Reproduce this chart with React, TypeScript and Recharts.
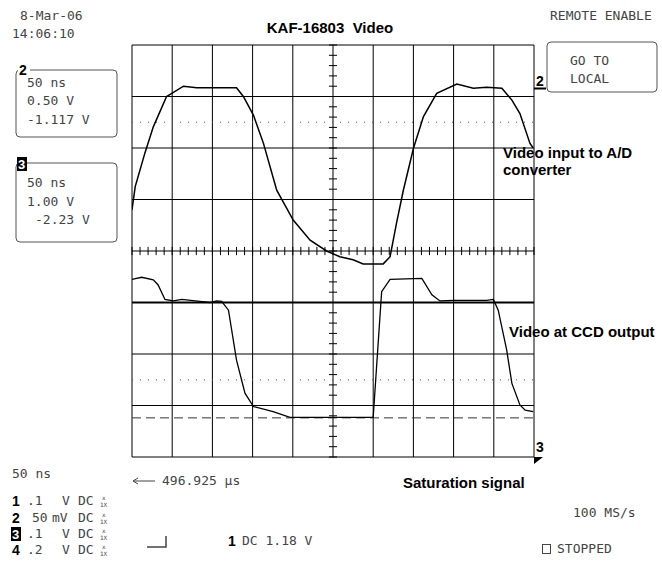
import React from "react";
import {
  ComposedChart,
  Line,
  XAxis,
  YAxis,
  CartesianGrid,
  ReferenceLine,
} from "recharts";

// scope screen is 10 x 8 divisions, centre at (5, 0)
const xDivs = [0, 1, 2, 3, 4, 5, 6, 7, 8, 9, 10];
const yDivs = [-4, -3, -2, -1, 0, 1, 2, 3, 4];

// Video input to A/D converter (channel 2)
const adcInput = [
  { x: 0.0, y: 0.8 },
  { x: 0.08, y: 1.25 },
  { x: 0.32, y: 1.9 },
  { x: 0.53, y: 2.41 },
  { x: 0.86, y: 3.0 },
  { x: 0.99, y: 3.06 },
  { x: 1.28, y: 3.2 },
  { x: 1.61, y: 3.17 },
  { x: 2.6, y: 3.17 },
  { x: 2.77, y: 3.0 },
  { x: 3.02, y: 2.64 },
  { x: 3.27, y: 2.09 },
  { x: 3.6, y: 1.18 },
  { x: 4.01, y: 0.6 },
  { x: 4.43, y: 0.21 },
  { x: 4.84, y: 0.0 },
  { x: 5.17, y: -0.11 },
  { x: 5.5, y: -0.17 },
  { x: 5.75, y: -0.25 },
  { x: 6.25, y: -0.25 },
  { x: 6.42, y: -0.11 },
  { x: 6.58, y: 0.54 },
  { x: 6.75, y: 1.18 },
  { x: 7.0, y: 1.99 },
  { x: 7.25, y: 2.61 },
  { x: 7.58, y: 3.06 },
  { x: 8.08, y: 3.24 },
  { x: 8.49, y: 3.16 },
  { x: 8.82, y: 3.18 },
  { x: 9.2, y: 3.16 },
  { x: 9.45, y: 2.93 },
  { x: 9.65, y: 2.67 },
  { x: 9.9, y: 2.09 },
  { x: 9.98, y: 2.0 },
];

// Video at CCD output (channel 3)
const ccdOutput = [
  { x: 0.0, y: -0.55 },
  { x: 0.24, y: -0.51 },
  { x: 0.53, y: -0.56 },
  { x: 0.65, y: -0.66 },
  { x: 0.82, y: -0.94 },
  { x: 1.03, y: -0.97 },
  { x: 1.24, y: -0.94 },
  { x: 1.69, y: -0.98 },
  { x: 1.94, y: -1.0 },
  { x: 2.11, y: -0.97 },
  { x: 2.23, y: -0.98 },
  { x: 2.4, y: -1.15 },
  { x: 2.6, y: -2.12 },
  { x: 2.81, y: -2.76 },
  { x: 3.02, y: -3.02 },
  { x: 3.51, y: -3.12 },
  { x: 3.93, y: -3.23 },
  { x: 6.0, y: -3.23 },
  { x: 6.09, y: -2.18 },
  { x: 6.21, y: -0.79 },
  { x: 6.42, y: -0.55 },
  { x: 7.21, y: -0.53 },
  { x: 7.46, y: -0.85 },
  { x: 7.66, y: -0.97 },
  { x: 7.99, y: -0.96 },
  { x: 8.82, y: -0.96 },
  { x: 8.99, y: -0.94 },
  { x: 9.11, y: -1.15 },
  { x: 9.32, y: -1.92 },
  { x: 9.45, y: -2.57 },
  { x: 9.65, y: -2.99 },
  { x: 9.78, y: -3.09 },
  { x: 9.98, y: -3.12 },
];

// channel 1, flat
const ch1Flat = [
  { x: 0, y: -1 },
  { x: 10, y: -1 },
];

const dottedLevels = [2.5, -2.5];
const groundLevel = -3.24;

// channel settings shown bottom left
const chanScale = [".1", "50", ".1", ".2"];
const chanUnit = ["V", "mV", "V", "V"];

// minor graticule marks on the centre lines, 5 per division
const minorX = Array.from({ length: 51 }, (_, i) => i / 5);
const minorY = Array.from({ length: 41 }, (_, i) => -4 + i / 5);

const mono = "'DejaVu Sans Mono', monospace";
const sans = "'Liberation Sans', Arial, sans-serif";
const ink = "#444";

function ScopeText({ x, y, children }: { x: number; y: number; children: React.ReactNode }) {
  return (
    <text x={x} y={y} fontFamily={mono} fontSize={13} fill={ink} style={{ whiteSpace: "pre" }}>
      {children}
    </text>
  );
}

function Bold({ x, y, children, size = 15 }: { x: number; y: number; children: React.ReactNode; size?: number }) {
  return (
    <text x={x} y={y} fontFamily={sans} fontWeight={700} fontSize={size} fill="#000" style={{ whiteSpace: "pre" }}>
      {children}
    </text>
  );
}

function Overlay() {
  const rows = [505, 522, 538, 554];
  return (
    <svg width={662} height={566} style={{ position: "absolute", left: 0, top: 0, pointerEvents: "none" }}>
      <ScopeText x={20} y={20}>8-Mar-06</ScopeText>
      <ScopeText x={12} y={38}>14:06:10</ScopeText>

      {/* channel 2 box */}
      <rect x={16} y={70} width={101} height={67} rx={4} fill="none" stroke="#555" />
      <rect x={18} y={62} width={12} height={14} fill="#fff" />
      <Bold x={19} y={75} size={14}>2</Bold>
      <ScopeText x={27} y={87}>50 ns</ScopeText>
      <ScopeText x={27} y={105}>0.50 V</ScopeText>
      <ScopeText x={27} y={124}>-1.117 V</ScopeText>

      {/* channel 3 box */}
      <rect x={16} y={163} width={101} height={79} rx={4} fill="none" stroke="#555" />
      <rect x={17} y={157} width={10} height={14} fill="#000" />
      <text x={18} y={169} fontFamily={sans} fontWeight={700} fontSize={13} fill="#fff">3</text>
      <ScopeText x={27} y={187}>50 ns</ScopeText>
      <ScopeText x={27} y={206}>1.00 V</ScopeText>
      <ScopeText x={35} y={224}>-2.23 V</ScopeText>

      <text x={330} y={33} textAnchor="middle" fontFamily={sans} fontWeight={700} fontSize={15} fill="#000" style={{ whiteSpace: "pre" }}>
        KAF-16803  Video
      </text>

      <ScopeText x={550} y={20}>REMOTE ENABLE</ScopeText>
      <rect x={547} y={42} width={110} height={50} rx={4} fill="none" stroke="#555" />
      <ScopeText x={570} y={65}>GO TO</ScopeText>
      <ScopeText x={570} y={83}>LOCAL</ScopeText>

      {/* channel markers at right edge */}
      <Bold x={536} y={86} size={14}>2</Bold>
      <line x1={534} y1={88.5} x2={546} y2={88.5} stroke="#000" strokeWidth={2} />
      <Bold x={536} y={452} size={14}>3</Bold>
      <path d="M534 457 L543 457 L534 464 Z" fill="#000" />

      <Bold x={503} y={158}>Video input to A/D</Bold>
      <Bold x={503} y={175}>converter</Bold>
      <Bold x={509} y={337}>Video at CCD output</Bold>
      <Bold x={403} y={488}>Saturation signal</Bold>

      <ScopeText x={12} y={478}>50 ns</ScopeText>
      <line x1={133} y1={481} x2={155} y2={481} stroke={ink} />
      <path d="M133 481 L138 478 M133 481 L138 484" stroke={ink} fill="none" />
      <ScopeText x={162} y={485}>496.925 μs</ScopeText>

      {rows.map((yy, i) => (
        <g key={yy}>
          {i === 2 ? (
            <>
              <rect x={11} y={yy - 11} width={10} height={14} fill="#000" />
              <text x={12} y={yy + 1} fontFamily={sans} fontWeight={700} fontSize={13} fill="#fff">3</text>
            </>
          ) : (
            <Bold x={12} y={yy + 1} size={14}>{String(i + 1)}</Bold>
          )}
          <ScopeText x={i === 1 ? 32 : 27} y={yy}>{chanScale[i]}</ScopeText>
          <ScopeText x={chanUnit[i] === "mV" ? 52 : 62} y={yy}>{chanUnit[i]}</ScopeText>
          <ScopeText x={78} y={yy}>DC</ScopeText>
          <text x={102} y={yy - 5} fontFamily={mono} fontSize={6} fill={ink}>x</text>
          <text x={100} y={yy + 2} fontFamily={mono} fontSize={6} fill={ink}>1X</text>
        </g>
      ))}

      <path d="M147 547 L166 547 L166 536" stroke={ink} fill="none" strokeWidth={1.5} />
      <Bold x={228} y={546} size={14}>1</Bold>
      <ScopeText x={242} y={545}>DC 1.18 V</ScopeText>

      <ScopeText x={573} y={517}>100 MS/s</ScopeText>
      <rect x={542.5} y={544.5} width={8} height={9} fill="none" stroke={ink} />
      <ScopeText x={557} y={553}>STOPPED</ScopeText>
    </svg>
  );
}

export default function App() {
  return (
    <div style={{ position: "absolute", left: 0, top: 0, width: 662, height: 566, background: "#fff" }}>
      <ComposedChart
        width={662}
        height={566}
        margin={{ top: 45, right: 128, bottom: 109, left: 132 }}
      >
        <XAxis type="number" dataKey="x" domain={[0, 10]} ticks={xDivs} hide allowDataOverflow />
        <YAxis type="number" dataKey="y" domain={[-4, 4]} ticks={yDivs} hide allowDataOverflow />
        <CartesianGrid stroke="#000" strokeWidth={1} />
        {dottedLevels.map((lv) => (
          <ReferenceLine key={lv} y={lv} stroke="#555" strokeDasharray="1 7" />
        ))}
        <ReferenceLine y={groundLevel} stroke="#333" strokeDasharray="9 5" />
        {minorX.map((t) => (
          <ReferenceLine
            key={`mx${t}`}
            segment={[
              { x: t, y: -0.08 },
              { x: t, y: 0.08 },
            ]}
            stroke="#000"
          />
        ))}
        {minorY.map((t) => (
          <ReferenceLine
            key={`my${t}`}
            segment={[
              { x: 4.9, y: t },
              { x: 5.1, y: t },
            ]}
            stroke="#000"
          />
        ))}
        <Line data={ch1Flat} dataKey="y" type="linear" stroke="#000" strokeWidth={2} dot={false} isAnimationActive={false} />
        <Line data={adcInput} dataKey="y" type="linear" stroke="#000" strokeWidth={1.5} dot={false} isAnimationActive={false} />
        <Line data={ccdOutput} dataKey="y" type="linear" stroke="#000" strokeWidth={1.3} dot={false} isAnimationActive={false} />
      </ComposedChart>
      <Overlay />
    </div>
  );
}
